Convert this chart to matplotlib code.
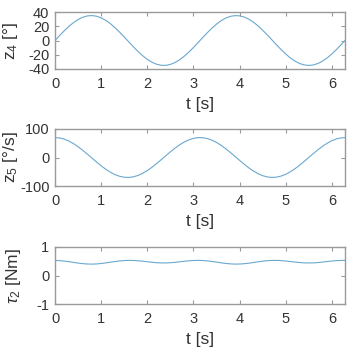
import numpy as np
import matplotlib
matplotlib.use("Agg")
import matplotlib.pyplot as plt

plt.rcParams['font.family'] = ['Liberation Sans', 'DejaVu Sans']
plt.rcParams['mathtext.fontset'] = 'custom'
plt.rcParams['mathtext.rm'] = 'Liberation Sans'
plt.rcParams['mathtext.it'] = 'Liberation Sans:italic'
plt.rcParams['axes.unicode_minus'] = False

# time samples [s] (first sample duplicated: initial value of the logged signals)
t = [0.0, 0.0, 0.1, 0.2, 0.3, 0.4, 0.5, 0.6, 0.7, 0.8, 0.9, 1.0, 1.1, 1.2, 1.3, 1.4, 1.5,
     1.6, 1.7, 1.8, 1.9, 2.0, 2.1, 2.2, 2.3, 2.4, 2.5, 2.6, 2.7, 2.8, 2.9, 3.0,
     3.1, 3.2, 3.3, 3.4, 3.5, 3.6, 3.7, 3.8, 3.9, 4.0, 4.1, 4.2, 4.3, 4.4, 4.5,
     4.6, 4.7, 4.8, 4.9, 5.0, 5.1, 5.2, 5.3, 5.4, 5.5, 5.6, 5.7, 5.8, 5.9, 6.0,
     6.1, 6.2, 6.3]

z4 = [0.0, 0.0, 7.0, 13.6, 19.8, 25.1, 29.5, 32.6, 34.5, 35.0, 34.1, 31.8, 28.3, 23.6, 18.0,
      11.7, 4.9, -2.0, -8.9, -15.5, -21.4, -26.5, -30.5, -33.3, -34.8, -34.9, -33.6,
      -30.9, -27.0, -22.1, -16.3, -9.8, -2.9, 4.1, 10.9, 17.3, 23.0, 27.8, 31.5, 33.9,
      34.9, 34.6, 32.9, 29.9, 25.7, 20.5, 14.4, 7.8, 0.9, -6.1, -12.8, -19.0, -24.5,
      -29.0, -32.3, -34.3, -35.0, -34.3, -32.2, -28.8, -24.3, -18.8, -12.5, -5.8, 1.2]

z5 = [0.0, 70.0, 68.6, 64.5, 57.8, 48.8, 37.8, 25.4, 11.9, -2.0, -15.9, -29.1, -41.2, -51.6,
      -60.0, -66.0, -69.3, -69.9, -67.7, -62.8, -55.4, -45.8, -34.3, -21.5, -7.9, 6.1,
      19.9, 32.8, 44.4, 54.3, 62.0, 67.2, 69.8, 69.5, 66.5, 60.9, 52.8, 42.6, 30.7,
      17.6, 3.8, -10.2, -23.7, -36.4, -47.5, -56.8, -63.8, -68.2, -70.0, -68.9, -65.1,
      -58.7, -50.0, -39.3, -27.0, -13.6, 0.3, 14.2, 27.5, 39.8, 50.4, 59.1, 65.4, 69.0, 70.0]

tau2 = [1.0, 0.530, 0.522, 0.506, 0.484, 0.459, 0.435, 0.416, 0.403, 0.400, 0.406, 0.421,
        0.442, 0.466, 0.490, 0.511, 0.525, 0.531, 0.528, 0.517, 0.501, 0.482, 0.464,
        0.449, 0.441, 0.441, 0.448, 0.462, 0.480, 0.499, 0.516, 0.527, 0.531, 0.526,
        0.513, 0.493, 0.469, 0.445, 0.423, 0.408, 0.400, 0.403, 0.414, 0.433, 0.456,
        0.481, 0.503, 0.520, 0.529, 0.530, 0.523, 0.508, 0.490, 0.471, 0.455, 0.444,
        0.440, 0.444, 0.455, 0.472, 0.491, 0.509, 0.523, 0.530, 0.529]

xticks = [0, 1, 2, 3, 4, 5, 6]
panels = [
    (z4, r'z$_4$ [°]', (-40, 40), [-40, -20, 0, 20, 40], 20),
    (z5, r'z$_5$ [°/s]', (-100, 100), [-100, 0, 100], 20),
    (tau2, r'$\tau_2$ [Nm]', (-1, 1), [-1, 0, 1], 23),
]

W, H = 352, 358
fig = plt.figure(figsize=(W / 100, H / 100), dpi=100)
tops = [12, 129, 247]
ax_h = 57
left, right = 55, 345
line_color = '#6aa8cf'
edge = '#9a9a9a'
txt = '#333333'

for (y, ylab, ylim, yt, lab_x), top in zip(panels, tops):
    ax = fig.add_axes([left / W, 1 - (top + ax_h) / H, (right - left) / W, ax_h / H])
    ax.plot(t, y, color=line_color, lw=0.8)
    ax.set_xlim(0, 2 * np.pi)
    ax.set_ylim(*ylim)
    ax.set_xticks(xticks)
    ax.set_yticks(yt)
    ax.tick_params(direction='in', length=3, width=0.8, colors=txt, labelsize=10.5,
                   top=True, right=True)
    ax.tick_params(axis='x', pad=6)
    ax.tick_params(axis='y', pad=4)
    ax.tick_params(color=edge)
    for s in ax.spines.values():
        s.set_color(edge)
        s.set_linewidth(1.0)
    ax.set_xlabel('t [s]', fontsize=12.5, color=txt, labelpad=4)
    ax.set_ylabel(ylab, fontsize=12.5, color=txt)
    ax.yaxis.set_label_coords((lab_x - left) / (right - left), 0.5)

fig.savefig('out.png', dpi=100)
